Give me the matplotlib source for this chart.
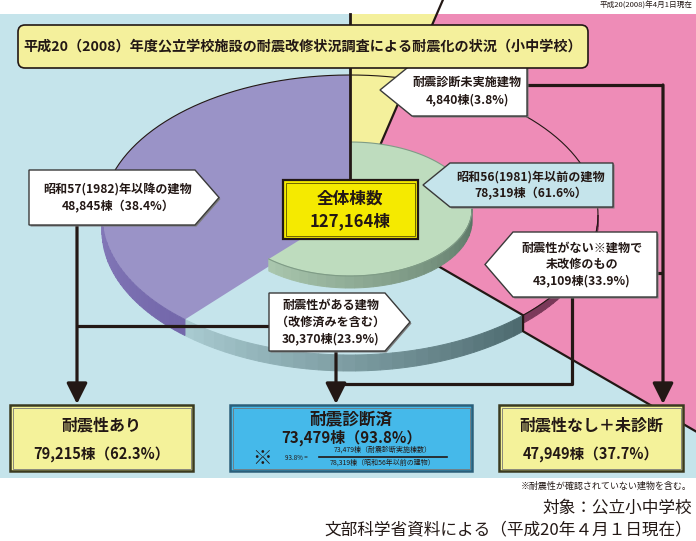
import numpy as np
import matplotlib.pyplot as plt
from matplotlib.colors import to_rgb
from matplotlib.patches import Polygon, Rectangle, FancyBboxPatch

plt.rcParams['font.family'] = ['Noto Sans CJK JP', 'DejaVu Sans']

# data (counts in buildings, shares in %)
total = 127164
slice_counts = [48845, 30370, 43109, 4840]
slice_pcts = [38.4, 23.9, 33.9, 3.8]
before_1981 = 78319
before_pct = 61.6
outcome_labels = ['耐震性あり', '耐震診断済', '耐震性なし＋未診断']
outcome_counts = [79215, 73479, 47949]
outcome_pcts = [62.3, 93.8, 37.7]

BG = '#c5e4eb'
PURPLE = '#9a93c7'
PINK = '#ee8cb7'
YELLOW = '#f4f09c'
GREEN = '#bedcbe'
INK = '#231815'

fig = plt.figure(figsize=(6.96, 5.41), dpi=100)
ax = fig.add_axes([0, 0, 1, 1])
ax.set_xlim(0, 696)
ax.set_ylim(541, 0)
ax.axis('off')

bg = Rectangle((0, 14), 696, 464, fc=BG, ec='none', zorder=0)
ax.add_patch(bg)

# pie geometry
CX, CY, A, B, T = 350, 215, 248, 140, 16
GCX, GCY, GA, GB, GT = 350, 209, 122, 67, 12


def pt(th, r=1.0, cx=CX, cy=CY, a=A, b=B):
    t = np.radians(th)
    return np.array([cx + r * a * np.cos(t), cy - r * b * np.sin(t)])


def arc(t1, t2, r=1.0, n=90, **kw):
    return np.array([pt(t, r, **kw) for t in np.linspace(t1, t2, n)])


def add_poly(pts, z, clip=True, **kw):
    p = Polygon(pts, closed=True, zorder=z, **kw)
    ax.add_patch(p)
    if clip:
        p.set_clip_path(bg)
    return p


def side(t1, t2, c1, c2, z, thick=T, n=30, **kw):
    c1 = np.array(to_rgb(c1))
    c2 = np.array(to_rgb(c2))
    edges = np.linspace(t1, t2, n + 1)
    for i in range(n):
        top = arc(edges[i], edges[i + 1], n=6, **kw)
        bot = top[::-1] + [0, thick]
        f = i / max(n - 1, 1)
        col = c1 + (c2 - c1) * f
        add_poly(np.vstack([top, bot]), z, fc=col, ec=col, lw=0.7)


bounds = 90 + 360 * np.cumsum(slice_counts) / total
C = np.array([CX, CY])

# pink and yellow slices (exploded, run off the frame)
rim1 = pt(bounds[1])
low = rim1 + [0, T]
d = rim1 - C
pink_pts = np.vstack([[C], [rim1], [low], [low + 6 * d], arc(bounds[1], bounds[2], r=7)])
add_poly(pink_pts, 1, fc=PINK, ec='none')
add_poly(np.vstack([[C], arc(bounds[2], 450, r=7)]), 1, fc=YELLOW, ec='none')

# light blue slice and purple slice
add_poly(np.vstack([[C], arc(bounds[0], bounds[1])]), 2, fc=BG, ec='none')
side(bounds[0], bounds[1], '#a8cad0', '#4e6b70', 2)
add_poly(np.vstack([[C], arc(90, bounds[0])]), 2, fc=PURPLE, ec='none')
side(180, bounds[0], '#8479b9', '#7367aa', 2)
side(bounds[1], 360, '#7c3a5b', '#6e3050', 2, thick=8)

# outlines
r = arc(bounds[1] - 360, 180, n=200)
ax.plot(r[:, 0], r[:, 1], color=INK, lw=0.8, zorder=3)
far = pt(bounds[2], r=7)
ax.plot([C[0], far[0]], [C[1], far[1]], color=INK, lw=1.6, zorder=3, clip_path=bg)
edge = np.array([C, rim1, low, low + 6 * d])
ax.plot(edge[:, 0], edge[:, 1], color=INK, lw=1.6, zorder=3, clip_path=bg)

# inner green pie: buildings before 1981
GC = np.array([GCX, GCY])
gk = dict(cx=GCX, cy=GCY, a=GA, b=GB)
add_poly(np.vstack([[GC], arc(bounds[0] - 360, 90, **gk)]), 4, fc=GREEN, ec='none')
side(bounds[0], 360, '#a9c6ad', '#5a7565', 4, thick=GT, **gk)
g = arc(bounds[0] - 360, 90, **gk)
ax.plot(g[:, 0], g[:, 1], color='#7f9c86', lw=0.8, zorder=4)

ax.plot([350, 350], [14, 182], color=INK, lw=2, zorder=5)

# connectors
lk = dict(color=INK, lw=2.3, zorder=6, solid_capstyle='butt')
ax.plot([77, 270], [326, 326], **lk)
ax.plot([336, 572, 572], [384, 384, 297], **lk)
ax.plot([527, 663], [85, 85], **lk)
ax.plot([657, 663], [273, 273], **lk)
ak = dict(arrowstyle='-|>,head_width=0.35,head_length=0.7', lw=2.3, color=INK, mutation_scale=18,
          shrinkA=0, shrinkB=0)
for x, y0 in [(77, 225), (336, 351), (663, 85)]:
    ax.annotate('', xy=(x, 404), xytext=(x, y0), arrowprops=ak, zorder=6)


def arrow_box(x0, x1, y0, y1, tip, side_, fc='white'):
    ym = (y0 + y1) / 2
    if side_ == 'left':
        pts = [(tip, ym), (x0, y0), (x1, y0), (x1, y1), (x0, y1)]
    else:
        pts = [(x0, y0), (x1, y0), (tip, ym), (x1, y1), (x0, y1)]
    pts = np.array(pts, dtype=float)
    add_poly(pts + [1.5, 1.5], 7, clip=False, fc='#7a7a7a', ec='none')
    add_poly(pts, 7, clip=False, fc=fc, ec='#3a3a3a', lw=1.0)


tk = dict(ha='center', va='center', zorder=8, weight='bold', color=INK)
fs = 8.7

arrow_box(29, 195, 170, 225, 219, 'right')
ax.text(118, 189, '昭和57(1982)年以降の建物', fontsize=fs, **tk)
ax.text(118, 207, f'{slice_counts[0]:,}棟（{slice_pcts[0]}%）', fontsize=fs, **tk)

arrow_box(269, 385, 293, 351, 410, 'right')
ax.text(331, 305, '耐震性がある建物', fontsize=fs, **tk)
ax.text(331, 322, '（改修済みを含む）', fontsize=fs, **tk)
ax.text(331, 339, f'{slice_counts[1]:,}棟({slice_pcts[1]}%)', fontsize=fs, **tk)

arrow_box(513, 657, 232, 297, 485, 'left')
ax.text(582, 248, '耐震性がない※建物で', fontsize=fs, **tk)
ax.text(582, 264, '未改修のもの', fontsize=fs, **tk)
ax.text(582, 281, f'{slice_counts[2]:,}棟({slice_pcts[2]}%)', fontsize=fs, **tk)

arrow_box(412, 527, 64, 116, 380, 'left')
ax.text(467, 82, '耐震診断未実施建物', fontsize=fs, **tk)
ax.text(467, 100, f'{slice_counts[3]:,}棟({slice_pcts[3]}%)', fontsize=fs, **tk)

arrow_box(450, 613, 163, 207, 423, 'left', fc=BG)
ax.text(531, 177, '昭和56(1981)年以前の建物', fontsize=fs, **tk)
ax.text(531, 194, f'{before_1981:,}棟（{before_pct}%）', fontsize=fs, **tk)

# centre total box
ax.add_patch(Rectangle((283, 180), 135, 59, fc='#f5ea00', ec=INK, lw=1.6, zorder=7))
ax.add_patch(Rectangle((286, 183), 129, 53, fc='none', ec='#5a5000', lw=0.6, zorder=7))
ax.text(350, 199, '全体棟数', fontsize=12, **tk)
ax.text(350, 221, f'{total:,}棟', fontsize=12, **tk)

# title
ax.add_patch(FancyBboxPatch((18, 25), 570, 43, boxstyle='round,pad=0,rounding_size=7',
                            fc=YELLOW, ec=INK, lw=1.2, zorder=7))
ax.text(303, 47, '平成20（2008）年度公立学校施設の耐震改修状況調査による耐震化の状況（小中学校）',
        fontsize=10.2, **tk)
ax.text(692, 6, '平成20(2008)年4月1日現在', fontsize=5.5, ha='right', va='center', color=INK)

# outcome boxes
boxes = [(10, 183, '#f4f29a', '#3a3a20'), (230, 242, '#45b9ea', '#2b5f7a'), (499, 184, '#f4f29a', '#3a3a20')]
for (x0, w, fc, ec), lab, cnt, pc in zip(boxes, outcome_labels, outcome_counts, outcome_pcts):
    ax.add_patch(Rectangle((x0, 405), w, 66, fc=fc, ec=ec, lw=1.8, zorder=7))
    ax.add_patch(Rectangle((x0 + 2.5, 407.5), w - 5, 61, fc='none', ec='#777', lw=0.6, zorder=7))
    cx = x0 + w / 2
    if lab == '耐震診断済':
        ax.text(cx, 419, lab, fontsize=12, **tk)
        ax.text(cx, 438, f'{cnt:,}棟（{pc}%）', fontsize=10.8, **tk)
    else:
        ax.text(cx, 426, lab, fontsize=11.5, **tk)
        ax.text(cx, 454, f'{cnt:,}棟（{pc}%）', fontsize=10.5, **tk)

# ratio note inside the blue box
ax.text(262, 458, '※', fontsize=14, ha='center', va='center', color=INK, zorder=8)
ax.text(296, 458, f'{outcome_pcts[1]}% =', fontsize=4.5, ha='center', va='center', color=INK, zorder=8)
ax.plot([319, 447], [456.5, 456.5], color=INK, lw=1.2, zorder=8)
ax.text(383, 450, f'{outcome_counts[1]:,}棟（耐震診断実施棟数）', fontsize=5, ha='center', va='center',
        color=INK, zorder=8)
ax.text(383, 463, f'{before_1981:,}棟（昭和56年以前の建物）', fontsize=5, ha='center', va='center',
        color=INK, zorder=8)

# footnotes
ax.text(692, 486, '※耐震性が確認されていない建物を含む。', fontsize=6.5, ha='right', va='center', color=INK)
ax.text(692, 508, '対象：公立小中学校', fontsize=12, ha='right', va='center', color=INK)
ax.text(692, 530, '文部科学省資料による（平成20年４月１日現在）', fontsize=12, ha='right', va='center', color=INK)

fig.savefig('out.png', dpi=100)
